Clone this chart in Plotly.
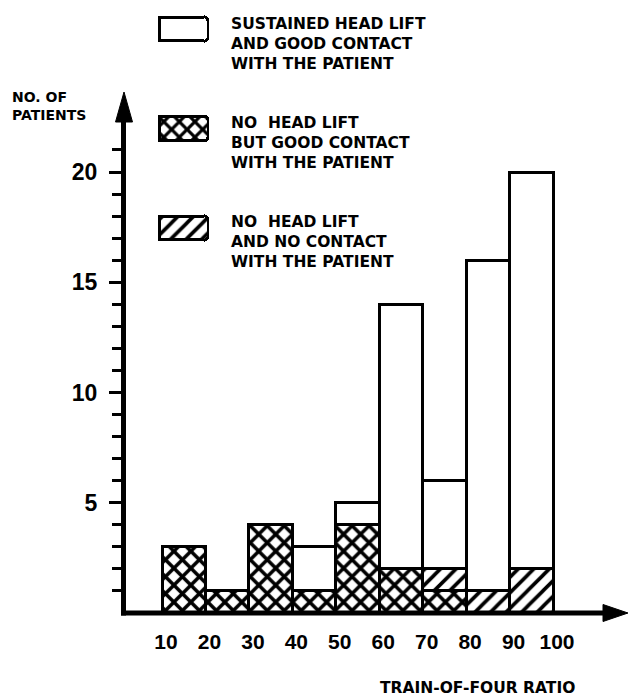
import plotly.graph_objects as go

# ---- data ----
bin_start = [10, 20, 30, 40, 50, 60, 70, 80, 90]
no_lift_good_contact = [3, 1, 4, 1, 4, 2, 1, 0, 0]      # crosshatched
no_lift_no_contact = [0, 0, 0, 0, 0, 0, 1, 1, 2]        # diagonal hatch
sustained_lift = [0, 0, 0, 2, 1, 12, 4, 15, 18]         # white
x_tick_vals = [10, 20, 30, 40, 50, 60, 70, 80, 90, 100]
y_tick_vals = [5, 10, 15, 20]
y_minor_vals = [v for v in range(1, 22) if v % 5 != 0]

legend_lines = [
    ["SUSTAINED HEAD LIFT", "AND GOOD CONTACT", "WITH THE PATIENT"],
    ["NO  HEAD LIFT", "BUT GOOD CONTACT", "WITH THE PATIENT"],
    ["NO  HEAD LIFT", "AND NO CONTACT", "WITH THE PATIENT"],
]
legend_patterns = ["", "x", "/"]

W, H = 629, 699
def px(p):
    return p / W
def py(p):
    return 1 - p / H

LINE = dict(color="black", width=3)
X_SOL, H_SOL = 0.5, 0.33

def pattern(shape):
    if shape == "x":
        return dict(shape="x", fgcolor="#000000", fgopacity=1, bgcolor="white",
                    size=12, solidity=X_SOL)
    if shape == "/":
        return dict(shape="/", fgcolor="#000000", fgopacity=1, bgcolor="white",
                    size=11, solidity=H_SOL)
    return dict(shape="", bgcolor="white")

fig = go.Figure()
for vals, shp in [(no_lift_good_contact, "x"), (no_lift_no_contact, "/"), (sustained_lift, "")]:
    fig.add_trace(go.Bar(
        x=bin_start, y=vals, width=10, offset=0,
        marker=dict(color="white", line=LINE, pattern=pattern(shp)),
        showlegend=False, hoverinfo="skip",
    ))

# legend swatches on their own small axes
fig.add_trace(go.Bar(
    x=[1, 1, 1], y=[0, 1, 2], orientation="h", width=0.241,
    xaxis="x2", yaxis="y2",
    marker=dict(color="white", line=LINE, cornerradius=4,
                pattern=dict(shape=legend_patterns, fgcolor="#000000", fgopacity=1,
                             bgcolor="white",
                             size=[11, 11, 11], solidity=[H_SOL, X_SOL, H_SOL])),
    showlegend=False, hoverinfo="skip",
))

x0_val = 10 - (162 - 123) / ((553 - 162) / 90)
x1_val = 100 + (628 - 553) / ((553 - 162) / 90)
fig.update_layout(
    width=W, height=H, margin=dict(l=0, r=0, t=0, b=0, autoexpand=False),
    paper_bgcolor="white", plot_bgcolor="white",
    barmode="stack", bargap=0,
    xaxis=dict(domain=[px(123), px(628)], range=[x0_val, x1_val], automargin=False,
               showline=False, showgrid=False, zeroline=False,
               tickmode="array", tickvals=x_tick_vals,
               ticktext=["<b>%d</b>" % v for v in x_tick_vals],
               ticks="", ticklabelstandoff=14, ticklabelshift=4,
               tickfont=dict(family="Liberation Sans", size=21, color="black")),
    yaxis=dict(domain=[py(613), py(93)], range=[0, (613 - 93) / 22.05], automargin=False,
               showline=False, showgrid=False, zeroline=False,
               tickmode="array", tickvals=y_tick_vals,
               ticktext=["<b>%d</b>" % v for v in y_tick_vals],
               ticks="outside", ticklen=13, tickwidth=3, tickcolor="black",
               ticklabelstandoff=7,
               tickfont=dict(family="Liberation Sans", size=23, color="black"),
               minor=dict(tickmode="array", tickvals=y_minor_vals, ticks="outside",
                          ticklen=10, tickwidth=3, tickcolor="black", showgrid=False)),
    xaxis2=dict(domain=[px(156), px(211)], range=[-3 / 49, 1 + 3 / 49], visible=False,
                anchor="y2", automargin=False),
    yaxis2=dict(domain=[py(245), py(5)], range=[(245 - 29) / 99.5, (5 - 29) / 99.5],
                visible=False, anchor="x2", automargin=False),
)

# axis lines and arrowheads
shapes = [
    dict(type="line", xref="paper", yref="paper", x0=px(123.5), x1=px(123.5),
         y0=py(615.5), y1=py(118), line=dict(color="black", width=5)),
    dict(type="path", xref="paper", yref="paper",
         path=f"M {px(115.5)},{py(122)} L {px(124)},{py(92)} L {px(132.5)},{py(122)} Z",
         fillcolor="black", line=dict(color="black", width=1)),
    dict(type="line", xref="paper", yref="paper", x0=px(121), x1=px(608),
         y0=py(613), y1=py(613), line=dict(color="black", width=5)),
    dict(type="path", xref="paper", yref="paper",
         path=f"M {px(603)},{py(604.5)} L {px(628)},{py(613)} L {px(603)},{py(621.5)} Z",
         fillcolor="black", line=dict(color="black", width=1)),
]
fig.update_layout(shapes=shapes)

TXT = dict(family="DejaVu Sans", size=15.5, color="black")
annots = []
for lines, yc in zip(legend_lines, [44, 143, 242]):
    annots.append(dict(text="<b>" + "<br>".join(lines) + "</b>", xref="paper", yref="paper",
                       x=px(229), y=py(yc), xanchor="left", yanchor="middle",
                       align="left", showarrow=False, font=TXT))
annots.append(dict(text="<b>NO. OF<br>PATIENTS</b>", xref="paper", yref="paper",
                   x=px(10), y=py(106), xanchor="left", yanchor="middle", align="left",
                   showarrow=False, font=dict(family="DejaVu Sans", size=14, color="black")))
annots.append(dict(text="<b>TRAIN-OF-FOUR RATIO</b>", xref="paper", yref="paper",
                   x=px(477), y=py(688), xanchor="center", yanchor="middle",
                   showarrow=False, font=dict(family="DejaVu Sans", size=15.5, color="black")))
fig.update_layout(annotations=annots)

fig.write_html("out.html", config={"displayModeBar": False, "staticPlot": True})

# remove the browser's default page margin so the figure sits at the window origin
with open("out.html", encoding="utf-8") as f:
    html = f.read()
html = html.replace("<head>", "<head><style>html,body{margin:0;padding:0;overflow:hidden;}</style>", 1)
with open("out.html", "w", encoding="utf-8") as f:
    f.write(html)
